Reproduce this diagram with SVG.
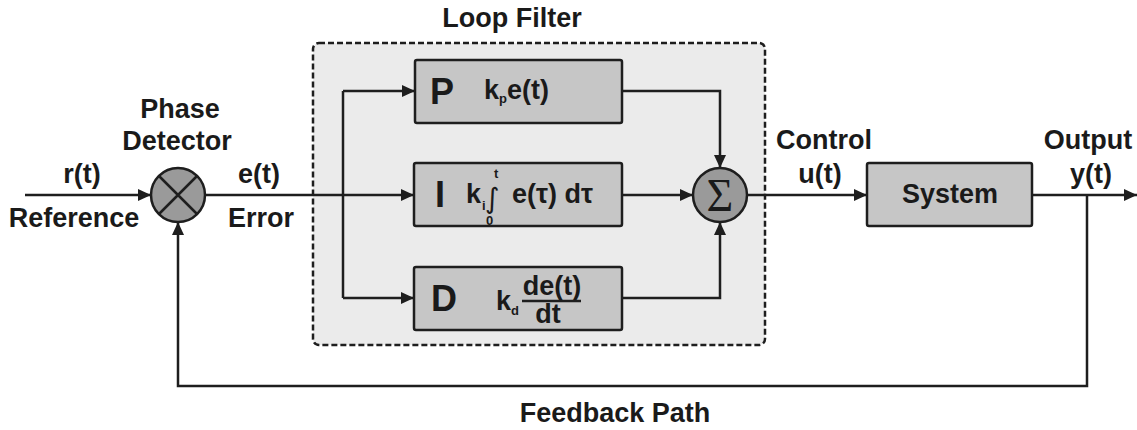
<svg xmlns="http://www.w3.org/2000/svg" width="1137" height="430" viewBox="0 0 1137 430">
  <style>
    .lbl { font-family: "Liberation Sans", Arial, sans-serif; font-weight: bold; font-size: 27px; fill: #1a1a1a; text-anchor: middle; }
    .big { font-family: "Liberation Sans", Arial, sans-serif; font-weight: bold; font-size: 36px; fill: #1a1a1a; }
    .eq { font-family: "Liberation Sans", Arial, sans-serif; font-weight: bold; font-size: 27px; fill: #1a1a1a; }
    .sub { font-family: "Liberation Sans", Arial, sans-serif; font-weight: bold; font-size: 13px; fill: #1a1a1a; }
    .block { fill: #c6c6c6; stroke: #1e1e1e; stroke-width: 2.5; }
    .junction { fill: #9a9a9a; stroke: #1e1e1e; stroke-width: 2.5; }
    .wire { fill: none; stroke: #1e1e1e; stroke-width: 2.5; }
    .arrow { fill: none; stroke: #1e1e1e; stroke-width: 2.5; marker-end: url(#head); }
  </style>
  <defs>
    <marker id="head" markerUnits="userSpaceOnUse" markerWidth="14" markerHeight="12" refX="13" refY="6" orient="auto">
      <path d="M0,0 L13,6 L0,12 Z" fill="#1e1e1e"/>
    </marker>
  </defs>

  <rect width="1137" height="430" fill="#ffffff"/>

  <!-- loop filter container -->
  <g id="loop-filter">
    <rect x="313" y="43" width="452" height="302" rx="6" fill="#ebebeb" stroke="#1e1e1e" stroke-width="2.5" stroke-dasharray="6 3"/>
    <text class="lbl" x="512" y="27">Loop Filter</text>
  </g>

  <!-- connectors -->
  <g id="connectors">
    <path class="arrow" d="M25,195 H151"/>
    <path class="arrow" d="M1087,195 V386 H178 V222"/>
    <path class="arrow" d="M1032,195 H1137"/>
    <path class="arrow" d="M205,195 H414"/>
    <path class="wire" d="M343,91 V298"/>
    <path class="arrow" d="M343,91 H415"/>
    <path class="arrow" d="M343,298 H414"/>
    <path class="arrow" d="M622,91 H720 V168"/>
    <path class="arrow" d="M622,195 H693"/>
    <path class="arrow" d="M622,298 H720 V222"/>
    <path class="arrow" d="M747,195 H867"/>
  </g>

  <!-- phase detector (multiplier) -->
  <g id="phase-detector">
    <circle class="junction" cx="178" cy="195" r="27"/>
    <path class="wire" d="M159,176 L197,214 M197,176 L159,214"/>
    <text class="lbl" x="180" y="118">Phase</text>
    <text class="lbl" x="177" y="150">Detector</text>
  </g>

  <!-- signal labels -->
  <g id="labels">
    <text class="lbl" x="82" y="183">r(t)</text>
    <text class="lbl" x="74" y="227">Reference</text>
    <text class="lbl" x="259" y="183">e(t)</text>
    <text class="lbl" x="261" y="227">Error</text>
    <text class="lbl" x="824" y="149">Control</text>
    <text class="lbl" x="820" y="183">u(t)</text>
    <text class="lbl" x="1088" y="149">Output</text>
    <text class="lbl" x="1091" y="183">y(t)</text>
    <text class="lbl" x="615" y="422">Feedback Path</text>
  </g>

  <!-- proportional branch -->
  <g id="p-block">
    <rect class="block" x="415" y="60" width="207" height="63" rx="2"/>
    <text class="big" x="430" y="104">P</text>
    <text class="eq" x="484" y="99">k<tspan class="sub" dy="4">p</tspan><tspan dy="-4">e(t)</tspan></text>
  </g>

  <!-- integral branch -->
  <g id="i-block">
    <rect class="block" x="414" y="163" width="208" height="63" rx="2"/>
    <text class="big" x="435" y="207">I</text>
    <text class="eq" x="466" y="203">k</text>
    <text class="sub" x="482" y="210">i</text>
    <text x="485" y="208" font-family="'DejaVu Sans', sans-serif" font-size="28" fill="#1a1a1a">∫</text>
    <text class="sub" x="494" y="178">t</text>
    <text class="sub" x="486" y="225">0</text>
    <text class="eq" x="512" y="203">e(τ) dτ</text>
  </g>

  <!-- derivative branch -->
  <g id="d-block">
    <rect class="block" x="414" y="267" width="208" height="63" rx="2"/>
    <text class="big" x="431" y="311">D</text>
    <text class="eq" x="496" y="310">k</text>
    <text class="sub" x="511" y="315">d</text>
    <text class="eq" x="552" y="295" text-anchor="middle">de(t)</text>
    <path class="wire" d="M522,301 H581"/>
    <text class="eq" x="548" y="323" text-anchor="middle">dt</text>
  </g>

  <!-- summing junction -->
  <g id="summer">
    <circle class="junction" cx="720" cy="195" r="27"/>
    <text x="720" y="211" font-family="'Liberation Serif', 'Times New Roman', serif" font-size="46" fill="#1a1a1a" text-anchor="middle">Σ</text>
  </g>

  <!-- plant -->
  <g id="system">
    <rect class="block" x="867" y="163" width="165" height="63" rx="2"/>
    <text class="lbl" x="950" y="203">System</text>
  </g>
</svg>
